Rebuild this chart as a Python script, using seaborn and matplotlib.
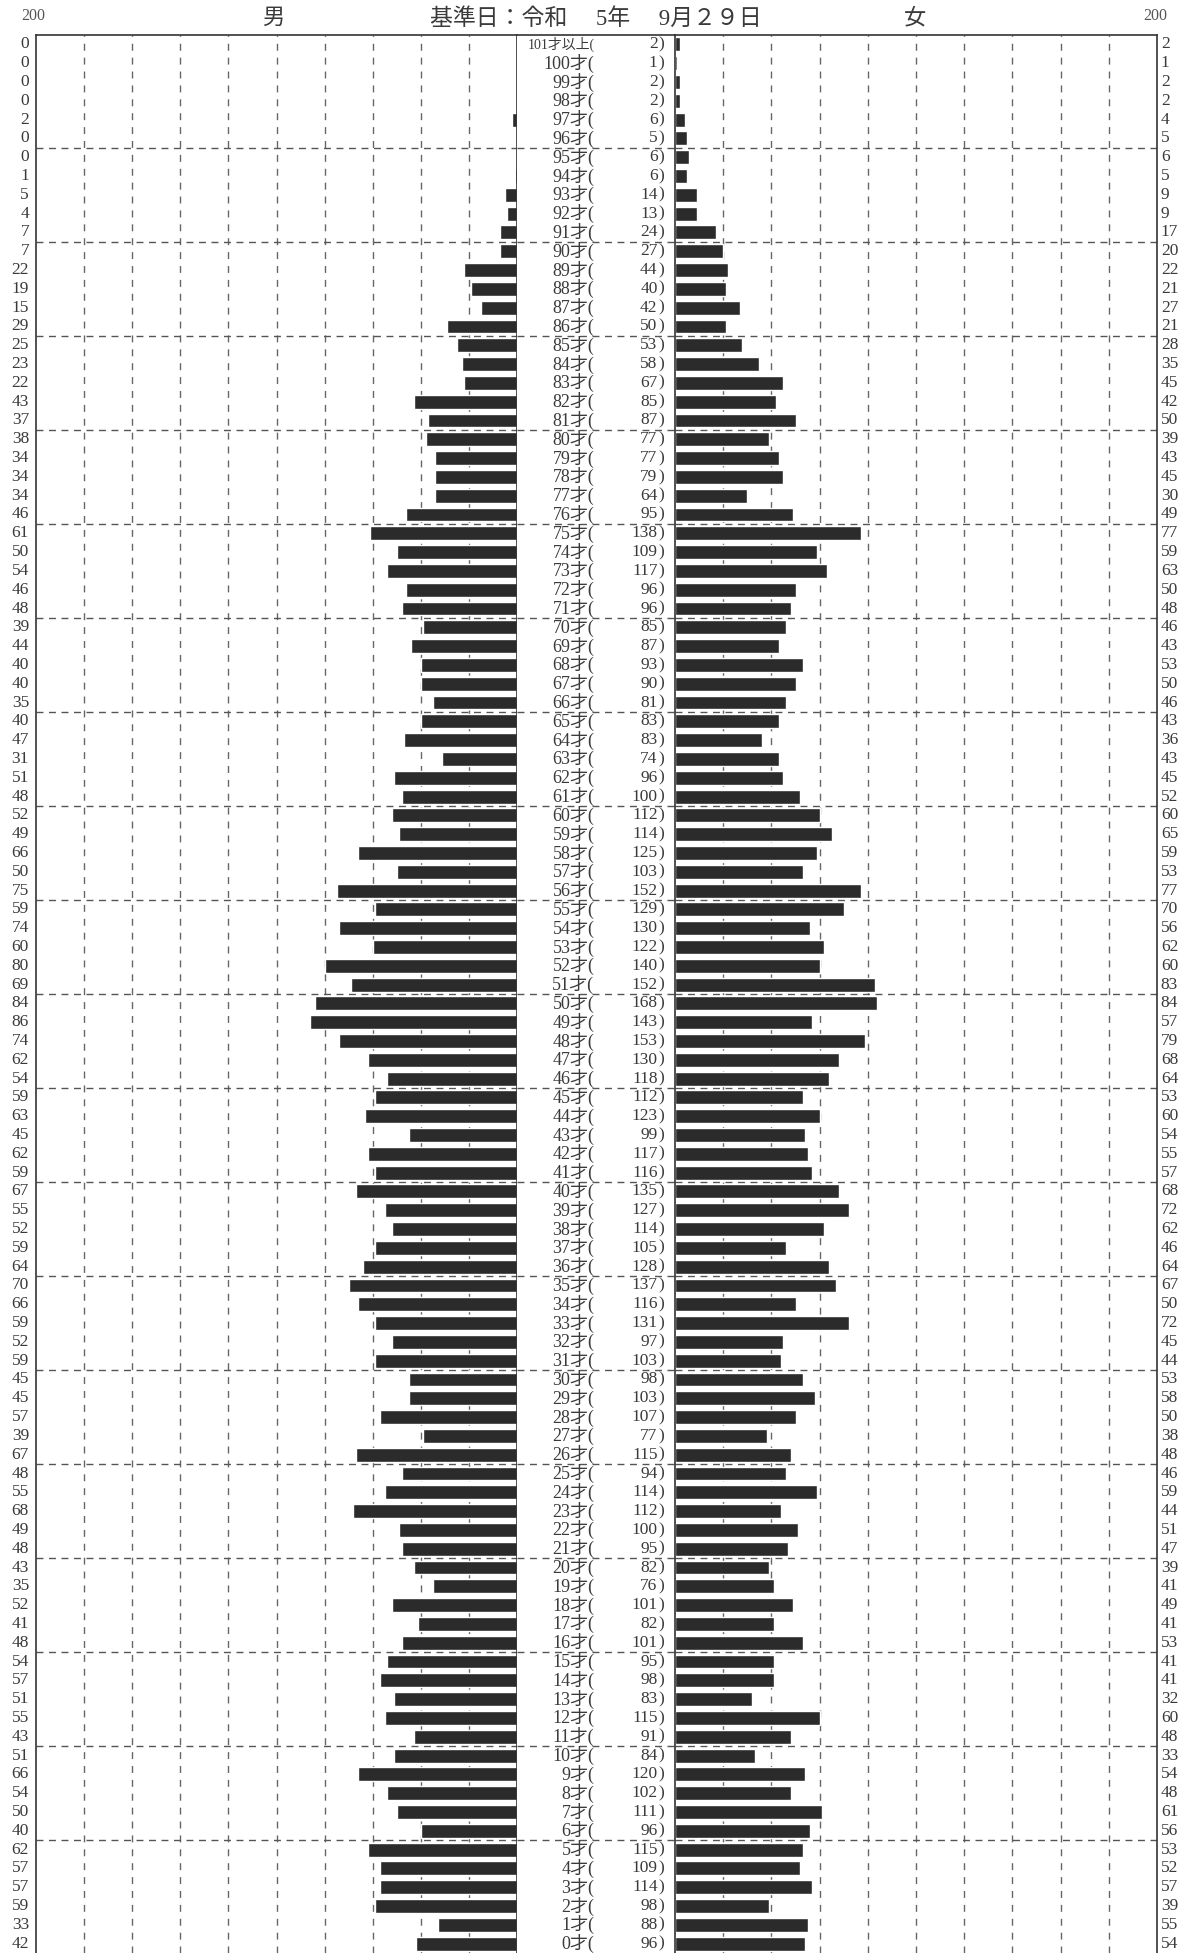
import numpy as np
import pandas as pd
import matplotlib
matplotlib.use('Agg')
import matplotlib.pyplot as plt
import seaborn as sns

# age classes, top of the pyramid first
ages = ['101才以上'] + [f'{a}才' for a in range(100, -1, -1)]

male = [0, 0, 0, 0, 2, 0, 0, 1, 5, 4,
        7, 7, 22, 19, 15, 29, 25, 23, 22, 43,
        37, 38, 34, 34, 34, 46, 61, 50, 54, 46,
        48, 39, 44, 40, 40, 35, 40, 47, 31, 51,
        48, 52, 49, 66, 50, 75, 59, 74, 60, 80,
        69, 84, 86, 74, 62, 54, 59, 63, 45, 62,
        59, 67, 55, 52, 59, 64, 70, 66, 59, 52,
        59, 45, 45, 57, 39, 67, 48, 55, 68, 49,
        48, 43, 35, 52, 41, 48, 54, 57, 51, 55,
        43, 51, 66, 54, 50, 40, 62, 57, 57, 59,
        33, 42]

female = [2, 1, 2, 2, 4, 5, 6, 5, 9, 9,
          17, 20, 22, 21, 27, 21, 28, 35, 45, 42,
          50, 39, 43, 45, 30, 49, 77, 59, 63, 50,
          48, 46, 43, 53, 50, 46, 43, 36, 43, 45,
          52, 60, 65, 59, 53, 77, 70, 56, 62, 60,
          83, 84, 57, 79, 68, 64, 53, 60, 54, 55,
          57, 68, 72, 62, 46, 64, 67, 50, 72, 45,
          44, 53, 58, 50, 38, 48, 46, 59, 44, 51,
          47, 39, 41, 49, 41, 53, 41, 41, 32, 60,
          48, 33, 54, 48, 61, 56, 53, 52, 57, 39,
          55, 54]

total = [2, 1, 2, 2, 6, 5, 6, 6, 14, 13,
         24, 27, 44, 40, 42, 50, 53, 58, 67, 85,
         87, 77, 77, 79, 64, 95, 138, 109, 117, 96,
         96, 85, 87, 93, 90, 81, 83, 83, 74, 96,
         100, 112, 114, 125, 103, 152, 129, 130, 122, 140,
         152, 168, 143, 153, 130, 118, 112, 123, 99, 117,
         116, 135, 127, 114, 105, 128, 137, 116, 131, 97,
         103, 98, 103, 107, 77, 115, 94, 114, 112, 100,
         95, 82, 76, 101, 82, 101, 95, 98, 83, 115,
         91, 84, 120, 102, 111, 96, 115, 109, 114, 98,
         88, 96]

header = '基準日：令和　 5年　 9月２９日'

df = pd.DataFrame({'age': ages, 'male': male, 'female': female, 'total': total})

sns.set_style('white')
plt.rcParams['font.family'] = ['Liberation Serif', 'Noto Sans CJK JP']

W, H = 1192, 1953
fig = plt.figure(figsize=(W / 100, H / 100), dpi=100)

top = 35
ax_h = (H - top) / H
ax_l = fig.add_axes([36 / W, 0, (517 - 36) / W, ax_h])
ax_m = fig.add_axes([517 / W, 0, (675 - 517) / W, ax_h])
ax_r = fig.add_axes([675 / W, 0, (1157 - 675) / W, ax_h])

bar_col = '#2b2b2b'
txt_col = '#3a3a3a'
n = len(ages)

sns.barplot(data=df, x='male', y='age', orient='h', color=bar_col,
            width=0.74, saturation=1, ax=ax_l)
sns.barplot(data=df, x='female', y='age', orient='h', color=bar_col,
            width=0.74, saturation=1, ax=ax_r)

ax_l.set_xlim(200, 0)
ax_r.set_xlim(0, 200)
ax_m.set_xlim(0, 1)
for ax in (ax_l, ax_m, ax_r):
    ax.set_ylim(n - 0.5, -0.5)
    ax.set_xlabel('')
    ax.set_ylabel('')
    ax.set_xticks([])
    ax.set_yticks([])
    ax.spines['bottom'].set_visible(False)
    for s in ('top', 'left', 'right'):
        ax.spines[s].set_color('#333333')
        ax.spines[s].set_linewidth(1.2)
ax_m.spines['left'].set_visible(False)
ax_m.spines['right'].set_visible(False)

# dashed grid
for ax in (ax_l, ax_r):
    for v in range(20, 200, 20):
        ax.axvline(v, color='#666666', lw=1.0, ls=(0, (5, 5)), zorder=0)
for ax in (ax_l, ax_m, ax_r):
    for i in range(6, n - 1, 5):
        ax.axhline(i - 0.5, color='#555555', lw=1.0, ls=(0, (5, 4)), zorder=0)

# numbers beside the pyramid and in the centre band
side = matplotlib.transforms.blended_transform_factory(fig.transFigure, ax_l.transData)
for i in range(n):
    ax_l.text(29 / W, i, str(male[i]), ha='right', va='center', fontsize=12.5,
              color=txt_col, transform=side)
    ax_r.text(1.008, i, str(female[i]), ha='left', va='center', fontsize=12.5,
              color=txt_col, transform=ax_r.get_yaxis_transform())
    fs = 10 if i == 0 else 13
    ax_m.text(0.49, i, ages[i] + '(', ha='right', va='center', fontsize=fs,
              color=txt_col)
    ax_m.text(0.89, i, str(total[i]), ha='right', va='center', fontsize=12.5,
              color=txt_col)
    ax_m.text(0.895, i, ')', ha='left', va='center', fontsize=12.5,
              color=txt_col)

fig.text(33 / W, 1 - 16 / H, '200', ha='center', va='center', fontsize=11.5, color='#555555')
fig.text(1155 / W, 1 - 16 / H, '200', ha='center', va='center', fontsize=11.5, color='#555555')
fig.text(273 / W, 1 - 19 / H, '男', ha='center', va='center', fontsize=16, color=txt_col)
fig.text(915 / W, 1 - 19 / H, '女', ha='center', va='center', fontsize=16, color=txt_col)
fig.text(596 / W, 1 - 19 / H, header, ha='center', va='center', fontsize=16.5, color=txt_col)

plt.savefig('out.png', dpi=100)
